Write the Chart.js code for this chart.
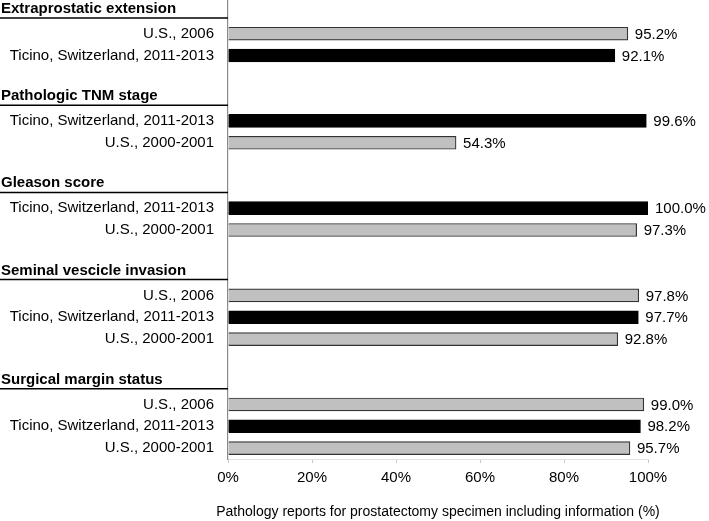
<!DOCTYPE html>
<html lang="en">
<head>
    <meta charset="UTF-8">
    <title>Pathology reports</title>
    <script src="https://cdn.jsdelivr.net/npm/chart.js"></script>
    <style>
        body {
            margin: 0;
            padding: 0;
            background-color: #ffffff;
        }

        .chart-box {
            width: 709px;
            height: 521px;
        }
    </style>
</head>
<body>
    <div class="chart-box">
        <canvas id="reportChart"></canvas>
    </div>

    <script>
        // Group headings, one per block of bars
        const headings = [
            "Extraprostatic extension",
            "Pathologic TNM stage",
            "Gleason score",
            "Seminal vescicle invasion",
            "Surgical margin status"
        ];

        // Row labels per group (top to bottom)
        const groupRows = [
            ["U.S., 2006", "Ticino, Switzerland, 2011-2013"],
            ["Ticino, Switzerland, 2011-2013", "U.S., 2000-2001"],
            ["Ticino, Switzerland, 2011-2013", "U.S., 2000-2001"],
            ["U.S., 2006", "Ticino, Switzerland, 2011-2013", "U.S., 2000-2001"],
            ["U.S., 2006", "Ticino, Switzerland, 2011-2013", "U.S., 2000-2001"]
        ];

        // Percent of reports including the information
        const groupValues = [
            [95.2, 92.1],
            [99.6, 54.3],
            [100.0, 97.3],
            [97.8, 97.7, 92.8],
            [99.0, 98.2, 95.7]
        ];

        const xTicks = [0, 20, 40, 60, 80, 100];
        const xTitle = "Pathology reports for prostatectomy specimen including information (%)";

        // Build the category list: a heading slot, the rows, then a blank slot between groups
        const labels = [];
        const ticinoData = [];
        const usData = [];
        const headingSlots = [];
        headings.forEach((h, g) => {
            if (g > 0) {
                labels.push("");
                ticinoData.push(null);
                usData.push(null);
            }
            headingSlots.push(labels.length);
            labels.push("");
            ticinoData.push(null);
            usData.push(null);
            groupRows[g].forEach((row, i) => {
                labels.push(row);
                const v = groupValues[g][i];
                if (row.startsWith("Ticino")) {
                    ticinoData.push(v);
                    usData.push(null);
                } else {
                    ticinoData.push(null);
                    usData.push(v);
                }
            });
        });

        const FONT = "'Liberation Sans', Arial, sans-serif";

        // Draws headings with their underline, the value labels and the axis title
        const extrasPlugin = {
            id: 'extras',
            afterDatasetsDraw(chart) {
                const ctx = chart.ctx;
                const yScale = chart.scales.y;
                const area = chart.chartArea;
                ctx.save();
                ctx.fillStyle = '#000';
                ctx.textAlign = 'left';
                ctx.textBaseline = 'alphabetic';
                ctx.font = "bold 15px " + FONT;
                headingSlots.forEach((slot, g) => {
                    const y = yScale.getPixelForValue(slot);
                    ctx.fillText(headings[g], 1, y + 1);
                    ctx.beginPath();
                    ctx.strokeStyle = '#000';
                    ctx.lineWidth = 1.5;
                    ctx.moveTo(0, y + 6);
                    ctx.lineTo(area.left, y + 6);
                    ctx.stroke();
                });

                ctx.font = "15px " + FONT;
                ctx.textBaseline = 'middle';
                chart.data.datasets.forEach((ds, di) => {
                    const meta = chart.getDatasetMeta(di);
                    meta.data.forEach((bar, i) => {
                        if (ds.data[i] === null) return;
                        ctx.fillText(ds.data[i].toFixed(1) + '%', bar.x + 7, bar.y + 1);
                    });
                });

                // x axis title, wider than the plot so drawn here
                ctx.font = "14px " + FONT;
                ctx.textAlign = 'center';
                ctx.fillText(xTitle, (area.left + area.right) / 2, chart.height - 9);
                ctx.restore();
            }
        };

        const ctx = document.getElementById('reportChart').getContext('2d');
        const chart = new Chart(ctx, {
            type: 'bar',
            data: {
                labels: labels,
                datasets: [
                    {
                        label: 'Ticino, Switzerland, 2011-2013',
                        data: ticinoData,
                        backgroundColor: '#000000',
                        borderColor: '#000000',
                        borderWidth: 1,
                        barThickness: 13
                    },
                    {
                        label: 'U.S.',
                        data: usData,
                        backgroundColor: '#c0c0c0',
                        borderColor: '#333333',
                        borderWidth: 1.2,
                        barThickness: 13
                    }
                ]
            },
            options: {
                indexAxis: 'y',
                responsive: true,
                maintainAspectRatio: false,
                animation: false,
                layout: {
                    padding: { top: 1, right: 61, bottom: 0, left: 0 }
                },
                plugins: {
                    legend: { display: false },
                    tooltip: { enabled: false }
                },
                scales: {
                    x: {
                        min: 0,
                        max: 100,
                        afterBuildTicks: (axis) => {
                            axis.ticks = xTicks.map(v => ({ value: v }));
                        },
                        afterFit: (axis) => {
                            axis.height = 62;
                        },
                        ticks: {
                            color: '#000',
                            padding: 6,
                            font: { family: FONT, size: 15 },
                            callback: (v) => v + '%'
                        },
                        grid: {
                            drawOnChartArea: false,
                            drawTicks: true,
                            tickLength: 4,
                            color: '#c8c8c8'
                        },
                        border: {
                            display: true,
                            color: '#e2e2e2'
                        },
                        title: {
                            display: false
                        }
                    },
                    y: {
                        stacked: true,
                        afterFit: (axis) => {
                            axis.width = 228;
                            axis.paddingTop = 0;
                            axis.paddingBottom = 0;
                        },
                        ticks: {
                            color: '#000',
                            padding: 6,
                            autoSkip: false,
                            font: { family: FONT, size: 15 }
                        },
                        grid: {
                            display: false
                        },
                        border: {
                            display: true,
                            color: '#8a8a8a',
                            width: 1.2
                        }
                    }
                }
            },
            plugins: [extrasPlugin]
        });
    </script>
</body>
</html>
